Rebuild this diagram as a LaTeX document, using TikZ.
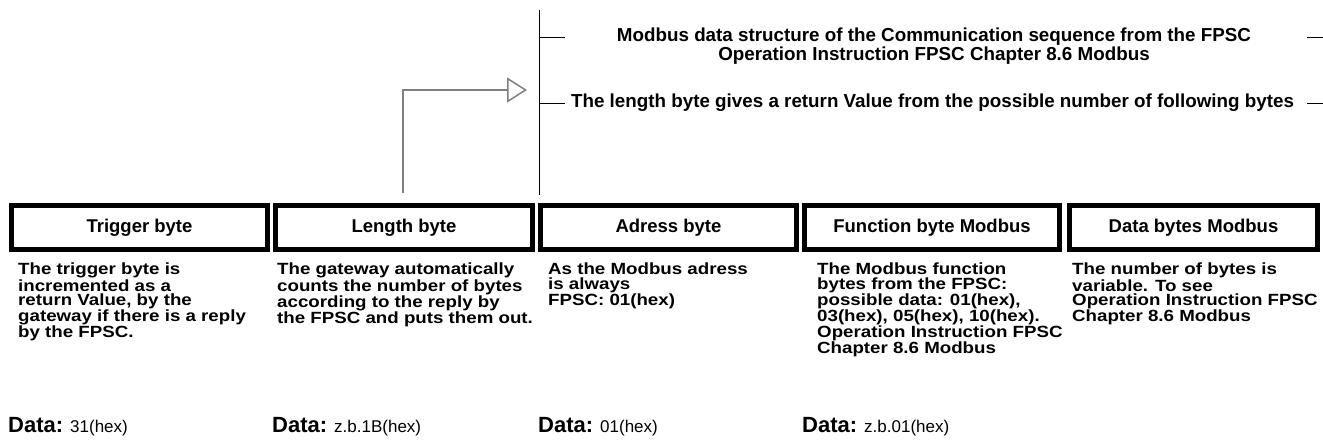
\documentclass[tikz,border=0pt]{standalone}
\usepackage{fontspec}
\setmainfont{Liberation Sans}
\newfontfamily\widebody[FakeStretch=1.155]{Liberation Sans}
\usetikzlibrary{arrows.meta}
\tikzset{
  bytebox/.style={draw=black, line width=5pt, minimum width=#1, minimum height=44pt, inner sep=0pt, font=\fontsize{18.5}{20}\selectfont\bfseries},
  desc/.style={anchor=north west, align=left, inner sep=0pt, font=\widebody\fontsize{16.2}{14.5}\selectfont\bfseries},
  datalbl/.style={anchor=base west, inner sep=0pt},
  headtxt/.style={inner sep=0pt, align=center, font=\fontsize{18.8}{18.5}\selectfont\bfseries},
  thinline/.style={line width=1pt, black},
  greyarrow/.style={line width=1.5pt, gray, -{Triangle[open, length=20pt, width=25pt, line width=1.5pt]}},
}
\newcommand{\datatext}[1]{{\fontsize{22}{24}\selectfont\bfseries Data:}\hspace{7pt}{\fontsize{17}{18}\selectfont #1}}
\begin{document}
\begin{tikzpicture}[x=1pt, y=-1pt]
\useasboundingbox (0,0) rectangle (1323,443);
% boxes
\node[bytebox=256pt] (b1) at (139.5,227.5) {Trigger byte};
\node[bytebox=257pt] (b2) at (404,227.5) {Length byte};
\node[bytebox=256pt] (b3) at (668.5,227.5) {Adress byte};
\node[bytebox=255pt] (b4) at (932,227.5) {Function byte Modbus};
\node[bytebox=248pt] (b5) at (1193.5,227.5) {Data bytes Modbus};
% descriptions
\node[desc] (d1) at (18,263) {The trigger byte is\\incremented as a\\return Value, by the\\gateway if there is a reply\\by the FPSC.};
\node[desc] (d2) at (277,263) {The gateway automatically\\counts the number of bytes\\according to the reply by\\the FPSC and puts them out.};
\node[desc] (d3) at (548,263) {As the Modbus adress\\is always\\FPSC: 01(hex)};
\node[desc] (d4) at (817,263) {The Modbus function\\bytes from the FPSC:\\possible data: 01(hex),\\03(hex), 05(hex), 10(hex).\\Operation Instruction FPSC\\Chapter 8.6 Modbus};
\node[desc] (d5) at (1072,263) {The number of bytes is\\variable. To see\\Operation Instruction FPSC\\Chapter 8.6 Modbus};
% data lines
\node[datalbl] (v1) at (8,433) {\datatext{31(hex)}};
\node[datalbl] (v2) at (272,433) {\datatext{z.b.1B(hex)}};
\node[datalbl] (v3) at (538,433) {\datatext{01(hex)}};
\node[datalbl] (v4) at (802,433) {\datatext{z.b.01(hex)}};
% top structure
\coordinate (vtop) at (539,10);
\coordinate (vbot) at (539,195);
\draw[thinline] (vtop) -- (vbot);
\coordinate (t1a) at (539,38);
\coordinate (t1b) at (565,38);
\coordinate (t2a) at (539,104);
\coordinate (t2b) at (565,104);
\coordinate (r1a) at (1307,38);
\coordinate (r1b) at (1323,38);
\coordinate (r2a) at (1307,104);
\coordinate (r2b) at (1323,104);
\draw[thinline] (t1a) -- (t1b);
\draw[thinline] (t2a) -- (t2b);
\draw[thinline] (r1a) -- (r1b);
\draw[thinline] (r2a) -- (r2b);
\node[headtxt] (h1) at (934,46) {Modbus data structure of the Communication sequence from the FPSC\\Operation Instruction FPSC Chapter 8.6 Modbus};
\node[headtxt] (h2) at (932.5,103) {The length byte gives a return Value from the possible number of following bytes};
% grey arrow
\coordinate (as) at (403,193);
\coordinate (ae) at (527,90);
\draw[greyarrow] (as) |- (ae);
\end{tikzpicture}
\end{document}
